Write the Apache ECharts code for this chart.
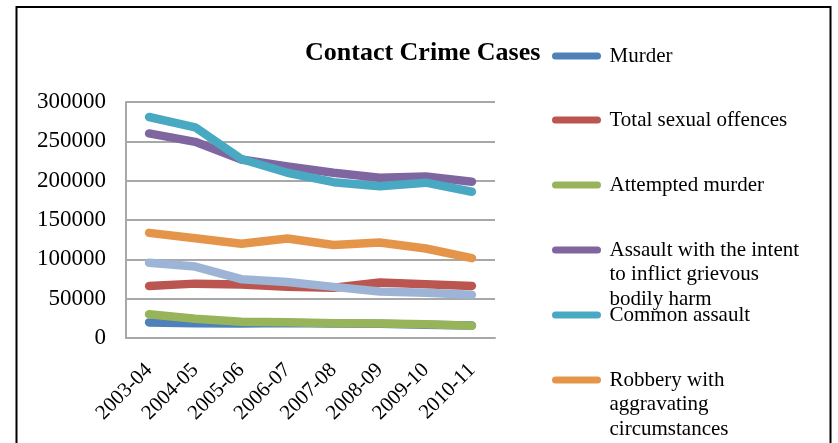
<!DOCTYPE html>
<html>
<head>
<meta charset="utf-8">
<script src="https://cdn.jsdelivr.net/npm/echarts@6/dist/echarts.min.js"></script>
<style>
html,body{margin:0;padding:0;background:#fff;}
#c{width:838px;height:443px;}
</style>
</head>
<body>
<div id="c"></div>
<script>
const categories = ['2003-04','2004-05','2005-06','2006-07','2007-08','2008-09','2009-10','2010-11'];
const murder = [19824, 18793, 18545, 19202, 18487, 18148, 16834, 15940];
const sexualOffences = [66079, 69117, 68076, 65201, 63818, 70514, 68332, 66196];
const attemptedMurder = [30076, 24516, 20553, 20142, 18795, 18298, 17410, 15493];
const assaultGBH = [260082, 249369, 226942, 218030, 210104, 203777, 205293, 198602];
const commonAssault = [280942, 267857, 227553, 210057, 198049, 192838, 197470, 185891];
const aggravatedRobbery = [133658, 126789, 119726, 126558, 118312, 121392, 113755, 101463];
const commonRobbery = [95551, 90825, 74723, 71156, 64985, 59232, 57537, 54883];
const seriesNames = ['Murder','Total sexual offences','Attempted murder','Assault with the intent to inflict grievous bodily harm','Common assault','Robbery with aggravating circumstances','Common robbery'];
const legendLabels = ['Murder','Total sexual offences','Attempted murder','Assault with the intent\nto inflict grievous\nbodily harm','Common assault','Robbery with\naggravating\ncircumstances'];
const yTicks = [0, 50000, 100000, 150000, 200000, 250000, 300000];
const title = 'Contact Crime Cases';

const colors = ['#4E81BA','#BA5550','#98B45A','#8066A0','#4AA9C2','#E5954A','#9DB4D7'];
const allData = [murder, sexualOffences, attemptedMurder, assaultGBH, commonAssault, aggravatedRobbery, commonRobbery];

const chart = echarts.init(document.getElementById('c'));
const serif = '"Liberation Serif", "Times New Roman", serif';
const capsule = 'path://M4,0 L52,0 A4,4 0 0 1 52,8 L4,8 A4,4 0 0 1 4,0 Z';
const LH = 24.5;

const legendCenters = [56, 120, 185, 250, 315, 380];
const legends = legendLabels.map((lab, i) => {
  const n = lab.split('\n').length;
  // prepend blank lines so the first text line sits level with the icon
  const txt = '\n'.repeat(n - 1) + lab;
  const boxH = (2 * n - 1) * LH;
  return {
    data: [seriesNames[i]],
    left: 552,
    top: legendCenters[i] - boxH / 2,
    orient: 'vertical',
    icon: capsule,
    itemWidth: 56,
    itemHeight: 7,
    selectedMode: false,
    padding: 0,
    formatter: () => txt,
    textStyle: {
      fontFamily: serif,
      fontSize: 21,
      color: '#000',
      lineHeight: LH
    }
  };
});

chart.setOption({
  animation: false,
  color: colors,
  title: {
    text: title,
    left: 305,
    top: 40,
    padding: 0,
    textStyle: { fontFamily: serif, fontWeight: 'bold', fontSize: 26, color: '#000' }
  },
  legend: legends,
  graphic: [{
    type: 'rect',
    shape: { x: 16.5, y: 7, width: 814, height: 500 },
    style: { fill: 'none', stroke: '#000', lineWidth: 2 },
    silent: true
  }],
  grid: { left: 126, top: 102, right: 343, bottom: 105 },
  xAxis: {
    type: 'category',
    data: categories,
    boundaryGap: true,
    axisLine: { show: true, lineStyle: { color: '#A8A8A8', width: 2 } },
    axisTick: { show: false },
    axisLabel: { rotate: 45, margin: 29, fontFamily: serif, fontSize: 21, color: '#000', interval: 0 }
  },
  yAxis: {
    type: 'value',
    min: yTicks[0],
    max: yTicks[yTicks.length - 1],
    interval: yTicks[1] - yTicks[0],
    axisLine: { show: true, lineStyle: { color: '#A8A8A8', width: 2 } },
    axisTick: { show: false },
    splitLine: { show: true, lineStyle: { color: '#A8A8A8', width: 2 } },
    axisLabel: { margin: 20, fontFamily: serif, fontSize: 23, color: '#000', formatter: v => String(v) }
  },
  series: allData.map((d, i) => ({
    name: seriesNames[i],
    type: 'line',
    data: d,
    symbol: 'none',
    lineStyle: { width: 8.5, color: colors[i], cap: 'round', join: 'round' },
    itemStyle: { color: colors[i] }
  }))
});
</script>
</body>
</html>
